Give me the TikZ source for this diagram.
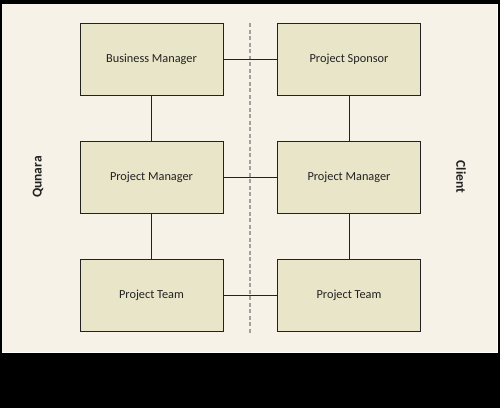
\documentclass[tikz,border=0pt]{standalone}
\usepackage{fontspec}
\setmainfont{Carlito}
\usepackage{xcolor}
\definecolor{cream}{HTML}{F6F2E7}
\definecolor{khaki}{HTML}{E9E5C9}
\definecolor{ink}{HTML}{222222}
\definecolor{dashgray}{HTML}{A0A0A0}
\usetikzlibrary{positioning}

\tikzset{
orgbox/.style={draw=ink,line width=1pt,fill=khaki,minimum width=143pt,minimum height=72pt,inner sep=0pt,font=\fontsize{12.3}{14}\selectfont,text=ink},
link/.style={draw=ink,line width=0.9pt},
side/.style={font=\fontsize{13.5}{15}\selectfont\bfseries,text=ink}
}

\begin{document}
\begin{tikzpicture}[x=1pt,y=-1pt]
\fill[black] (0,0) rectangle (500,408);
\fill[white] (2,4) rectangle (498,353);
\fill[cream] (2,4) rectangle (497,351.5);
\node[orgbox] (bm) at (151.5,59) {Business Manager};
\node[orgbox,below=45pt of bm] (qpm) {Project Manager};
\node[orgbox,below=45pt of qpm] (qpt) {Project Team};
\node[orgbox] (ps) at (349,59) {Project Sponsor};
\node[orgbox,below=45pt of ps] (cpm) {Project Manager};
\node[orgbox,below=45pt of cpm] (cpt) {Project Team};
\coordinate (divtop) at (250,23);
\coordinate (divbot) at (250,333);
\draw[dashgray,line width=1.3pt,dash pattern=on 4pt off 2.5pt] (divtop)--(divbot);
\foreach \a/\b in {bm/ps,qpm/cpm,qpt/cpt} {
\draw[link] (\a.east)--(\b.west);}
\foreach \a/\b in {bm/qpm,qpm/qpt,ps/cpm,cpm/cpt} {
\draw[link] (\a.south)--(\b.north);}
\node[side,rotate=90] (qunara) at (38,177) {Qunara};
\node[side,rotate=-90] (client) at (461,177) {Client};
\end{tikzpicture}
\end{document}
